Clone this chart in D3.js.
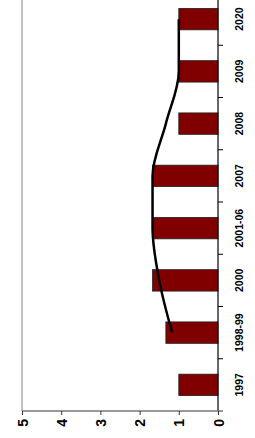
<!DOCTYPE html>
<html>
<head>
<meta charset="utf-8">
<script src="https://cdn.jsdelivr.net/npm/d3@7"></script>
<style>
  body { margin: 0; background: #fff; }
  svg text { font-family: "Liberation Sans Narrow", "Arial Narrow", "Liberation Sans", Arial, sans-serif; font-weight: bold; font-size: 10.5px; fill: #000; }
</style>
</head>
<body>
<div id="chart"></div>
<script>
// data, bottom to top
var categories = ['1997', '1998-99', '2000', '2001-06', '2007', '2008', '2009', '2020'];
var values = [1, 1.33, 1.67, 1.67, 1.67, 1, 1, 1];
// trend line (2 period moving average)
var trend = [null, 1.17, 1.5, 1.67, 1.67, 1.33, 1, 1];
var valueTicks = [0, 1, 2, 3, 4, 5];

var width = 255, height = 438;
var x0 = 218, x5 = 22, yBottom = 411, yTop = -7;

var svg = d3.select('#chart').append('svg')
  .attr('width', width)
  .attr('height', height);

// value runs right to left
var x = d3.scaleLinear().domain([0, 5]).range([x0, x5]);
var y = d3.scaleBand().domain(categories).range([yBottom, yTop]).padding(0);
var barH = y.step() * 0.41;

// border line at 5
svg.append('line')
  .attr('x1', x(5)).attr('x2', x(5))
  .attr('y1', yTop).attr('y2', yBottom)
  .attr('stroke', '#999').attr('stroke-width', 1.2);

// bars
svg.append('g').selectAll('rect')
  .data(categories)
  .enter().append('rect')
    .attr('x', function(d, i) { return x(values[i]); })
    .attr('y', function(d) { return y(d) + y.bandwidth() / 2 - barH / 2; })
    .attr('width', function(d, i) { return x(0) - x(values[i]); })
    .attr('height', barH)
    .attr('fill', '#800000')
    .attr('stroke', '#222')
    .attr('stroke-width', 0.8);

// trend line
var line = d3.line()
  .defined(function(d) { return d.v != null; })
  .x(function(d) { return x(d.v); })
  .y(function(d) { return y(d.c) + y.bandwidth() / 2; })
  .curve(d3.curveMonotoneY);

svg.append('path')
  .datum(categories.map(function(c, i) { return {c: c, v: trend[i]}; }))
  .attr('d', line)
  .attr('fill', 'none')
  .attr('stroke', '#000')
  .attr('stroke-width', 2.5);

// category axis (vertical, at value 0)
var catAxis = svg.append('g').attr('transform', 'translate(' + x0 + ',0)');
catAxis.append('line')
  .attr('x1', 0).attr('x2', 0)
  .attr('y1', yTop).attr('y2', yBottom)
  .attr('stroke', '#000').attr('stroke-width', 1.2);
// ticks between categories
catAxis.selectAll('line.tick')
  .data(categories.slice(1))
  .enter().append('line')
    .attr('class', 'tick')
    .attr('x1', 0).attr('x2', 5)
    .attr('y1', function(d) { return y(d) + y.bandwidth(); })
    .attr('y2', function(d) { return y(d) + y.bandwidth(); })
    .attr('stroke', '#000');
catAxis.selectAll('text')
  .data(categories)
  .enter().append('text')
    .attr('transform', function(d) {
      return 'translate(25,' + (y(d) + y.bandwidth() / 2) + ') rotate(-90)';
    })
    .attr('text-anchor', 'middle')
    .text(function(d) { return d; });

// value axis (horizontal, at bottom)
var valAxis = svg.append('g')
  .attr('transform', 'translate(0,' + yBottom + ')')
  .call(d3.axisBottom(x).tickValues(valueTicks).tickSize(4).tickFormat(d3.format('d')));
valAxis.select('.domain')
  .attr('d', 'M' + x5 + ',0H' + (x0 + 5))
  .attr('stroke', '#777')
  .attr('stroke-width', 1.4);
valAxis.selectAll('.tick line').attr('stroke', '#333');
valAxis.selectAll('.tick text')
  .attr('y', 0).attr('dy', null)
  .attr('transform', 'translate(5,8) rotate(-90)')
  .attr('text-anchor', 'end')
  .style('font-size', '14px');
</script>
</body>
</html>
